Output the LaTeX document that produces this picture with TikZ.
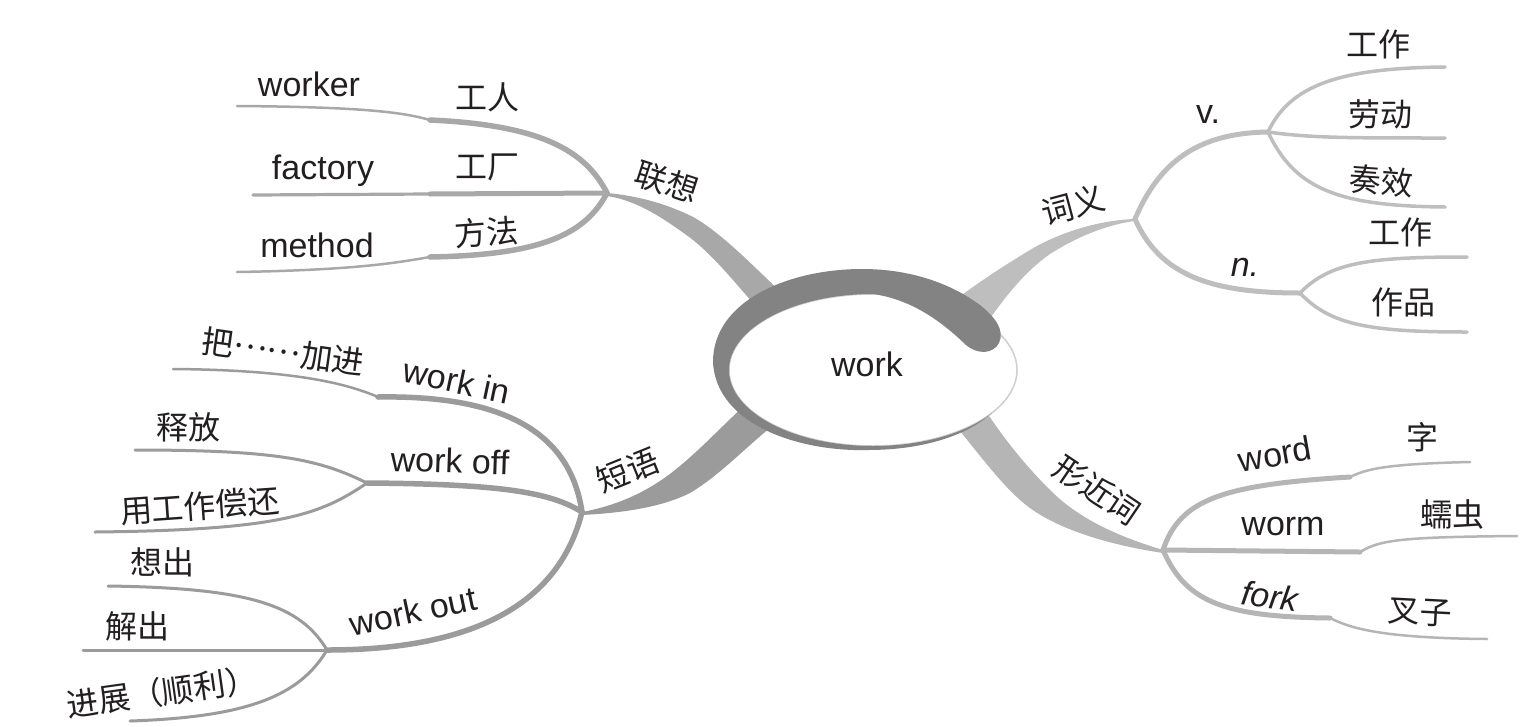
\documentclass[tikz,border=0pt]{standalone}
\usepackage{fontspec}
\setmainfont{Liberation Sans}
\newfontfamily\cjk{Noto Sans CJK SC}
\definecolor{ink}{HTML}{231F20}
\definecolor{ringc}{HTML}{838383}
\definecolor{ca}{HTML}{A8A8A8}
\definecolor{cb}{HTML}{BEBEBE}
\definecolor{cc}{HTML}{9B9B9B}
\definecolor{cd}{HTML}{B5B5B5}
\definecolor{rim}{HTML}{CFCFCF}
\tikzset{
  en/.style={font=\fontsize{34}{40}\selectfont, text=ink, inner sep=0pt},
  enit/.style={font=\itshape\fontsize{34}{40}\selectfont, text=ink, inner sep=0pt},
  zh/.style={font=\cjk\fontsize{32}{38}\selectfont, text=ink, inner sep=0pt},
  twig/.style={line width=#1, line cap=round},
}
\begin{document}
\begin{tikzpicture}[x=1pt,y=-1pt]
\useasboundingbox (0,0) rectangle (1530,726);
\fill[white] (0,0) rectangle (1530,726);

% ---------- hubs and ends ----------
\coordinate (hA) at (607,193);
\coordinate (kA1) at (430,120); \coordinate (eA1) at (237,106);
\coordinate (kA2) at (430,194); \coordinate (eA2) at (253,195);
\coordinate (kA3) at (430,257); \coordinate (eA3) at (237,272);

\coordinate (hB) at (1135,219);
\coordinate (hV) at (1268,132); \coordinate (hN) at (1300,293);
\coordinate (eV1) at (1445,67); \coordinate (eV2) at (1445,138); \coordinate (eV3) at (1445,207);
\coordinate (eN1) at (1467,257); \coordinate (eN2) at (1467,332);

\coordinate (hC) at (582,512);
\coordinate (kIn) at (378,397); \coordinate (eIn) at (173,369);
\coordinate (hOff) at (367,483); \coordinate (eOff1) at (135,450); \coordinate (eOff2) at (95,532);
\coordinate (hOut) at (327,650); \coordinate (eOut1) at (108,586); \coordinate (eOut2) at (83,650); \coordinate (eOut3) at (130,721);

\coordinate (hD) at (1163,550);
\coordinate (kW1) at (1350,477); \coordinate (eW1) at (1470,462);
\coordinate (kW2) at (1360,552); \coordinate (eW2) at (1517,536);
\coordinate (kW3) at (1330,618); \coordinate (eW3) at (1487,639);

% ---------- sub-branches: 联想 ----------
\draw[ca, twig=5.5] (hA) .. controls (585,150) and (540,125) .. (kA1);
\draw[ca, twig=2.5] (kA1) .. controls (405,113) and (370,107) .. (eA1);
\draw[ca, twig=5] (hA) -- (kA2);
\draw[ca, twig=3.2] (kA2) -- (eA2);
\draw[ca, twig=5.5] (hA) .. controls (585,235) and (540,255) .. (kA3);
\draw[ca, twig=2.5] (kA3) .. controls (400,262) and (360,270) .. (eA3);

% ---------- sub-branches: 词义 ----------
\draw[cb, twig=5] (hB) .. controls (1160,160) and (1200,133) .. (hV);
\draw[cb, twig=5] (hB) .. controls (1160,275) and (1210,293) .. (hN);
\draw[cb, twig=3.5] (hV) .. controls (1290,85) and (1340,68) .. (eV1);
\draw[cb, twig=3.5] (hV) .. controls (1310,138) and (1350,138) .. (eV2);
\draw[cb, twig=3.5] (hV) .. controls (1295,190) and (1340,206) .. (eV3);
\draw[cb, twig=3.5] (hN) .. controls (1330,262) and (1370,257) .. (eN1);
\draw[cb, twig=3.5] (hN) .. controls (1330,325) and (1370,332) .. (eN2);

% ---------- sub-branches: 短语 ----------
\draw[cc, twig=5.5] (hC) .. controls (570,430) and (500,395) .. (kIn);
\draw[cc, twig=2.5] (kIn) .. controls (350,385) and (300,370) .. (eIn);
\draw[cc, twig=5.5] (hC) .. controls (550,492) and (500,484) .. (hOff);
\draw[cc, twig=3] (hOff) .. controls (320,460) and (280,450) .. (eOff1);
\draw[cc, twig=3] (hOff) .. controls (320,515) and (280,530) .. (eOff2);
\draw[cc, twig=5.5] (hC) .. controls (560,600) and (480,650) .. (hOut);
\draw[cc, twig=3] (hOut) .. controls (300,605) and (250,588) .. (eOut1);
\draw[cc, twig=3] (hOut) -- (eOut2);
\draw[cc, twig=3] (hOut) .. controls (300,695) and (250,717) .. (eOut3);

% ---------- sub-branches: 形近词 ----------
\draw[cd, twig=5] (hD) .. controls (1180,500) and (1220,485) .. (kW1);
\draw[cd, twig=2.5] (kW1) .. controls (1365,470) and (1380,464) .. (eW1);
\draw[cd, twig=5] (hD) -- (kW2);
\draw[cd, twig=2.5] (kW2) .. controls (1380,540) and (1400,537) .. (eW2);
\draw[cd, twig=5] (hD) .. controls (1185,600) and (1220,617) .. (kW3);
\draw[cd, twig=2.5] (kW3) .. controls (1350,628) and (1380,638) .. (eW3);

% ---------- main tapered branches ----------
\fill[ca] (hA) .. controls (640,196) and (670,205) .. (695,218)
  .. controls (725,236) and (755,268) .. (785,296)
  -- (765,316) .. controls (740,290) and (715,255) .. (685,234)
  .. controls (660,216) and (635,200) .. (607,196) -- cycle;
\fill[cb] (hB) .. controls (1100,220) and (1060,232) .. (1030,250)
  .. controls (1000,268) and (975,285) .. (955,300)
  -- (985,325) .. controls (1000,305) and (1020,275) .. (1050,254)
  .. controls (1080,235) and (1110,224) .. (1135,221) -- cycle;
\fill[cc] (hC) .. controls (620,505) and (650,490) .. (675,470)
  .. controls (700,450) and (720,428) .. (745,405)
  -- (770,428) .. controls (745,448) and (720,475) .. (690,493)
  .. controls (660,508) and (620,513) .. (582,515) -- cycle;
\fill[cd] (hD) .. controls (1120,537) and (1080,520) .. (1050,490)
  .. controls (1025,465) and (1005,440) .. (985,410)
  -- (955,425) .. controls (980,455) and (1005,490) .. (1030,508)
  .. controls (1060,530) and (1110,545) .. (1163,553) -- cycle;

% ---------- centre ----------
\filldraw[fill=white, draw=rim, line width=1.5] (873,370) ellipse [x radius=144, y radius=76];
\fill[ringc] (992,413) .. controls (965,437) and (920,450) .. (868,450)
  .. controls (800,452) and (716,425) .. (713,362)
  .. controls (713,300) and (790,269) .. (862,269)
  .. controls (910,269) and (950,283) .. (980,305)
  .. controls (995,317) and (1005,330) .. (999,343)
  .. controls (993,354) and (978,355) .. (966,345)
  .. controls (945,325) and (915,300) .. (873,294)
  .. controls (793.5,294) and (729,328) .. (729,370)
  .. controls (729,412) and (793.5,446) .. (873,446)
  .. controls (920.5,446) and (965,434) .. (992,413) -- cycle;
\node[en] (root) at (867,364) {work};

% ---------- labels ----------
\node[zh, rotate=-18] (tA) at (667,182) {联想};
\node[zh, rotate=15] (tB) at (1073,205) {词义};
\node[zh, rotate=22] (tC) at (628,470) {短语};
\node[zh, rotate=-34] (tD) at (1097,490) {形近词};

\node[en] (worker) at (309,84) {worker};
\node[zh] (gongren) at (487,97) {工人};
\node[en] (factory) at (323,171) {factory};
\node[zh] (gongchang) at (487,167) {工厂};
\node[en] (method) at (317,245) {method};
\node[zh, rotate=4] (fangfa) at (487,232) {方法};

\node[en] (v) at (1208,115) {v.};
\node[enit] (n) at (1245,267) {n.};
\node[zh] (v1) at (1378,44) {工作};
\node[zh] (v2) at (1380,114) {劳动};
\node[zh, rotate=-4] (v3) at (1381,181) {奏效};
\node[zh] (n1) at (1400,232) {工作};
\node[zh] (n2) at (1403,302) {作品};

\node[zh, rotate=-8] (bajiajin) at (283,352) {把\raisebox{0.32em}{……}加进};
\node[en, rotate=-12] (workin) at (457,381) {work in};
\node[en, rotate=-2] (workoff) at (450,461) {work off};
\node[zh] (shifang) at (188,427) {释放};
\node[zh, rotate=4] (changhuan) at (200,506) {用工作偿还};
\node[en, rotate=12] (workout) at (413,611) {work out};
\node[zh] (xiangchu) at (162,562) {想出};
\node[zh] (jiechu) at (137,626) {解出};
\node[zh, rotate=8] (jinzhan) at (162,692) {进展（顺利）};

\node[en, rotate=10] (word) at (1275,454) {word};
\node[zh] (zi) at (1422,437) {字};
\node[en] (worm) at (1283,527) {worm};
\node[zh] (ruchong) at (1452,514) {蠕虫};
\node[enit, rotate=-8] (fork) at (1270,596) {fork};
\node[zh, rotate=-3] (chazi) at (1420,612) {叉子};
\end{tikzpicture}
\end{document}
